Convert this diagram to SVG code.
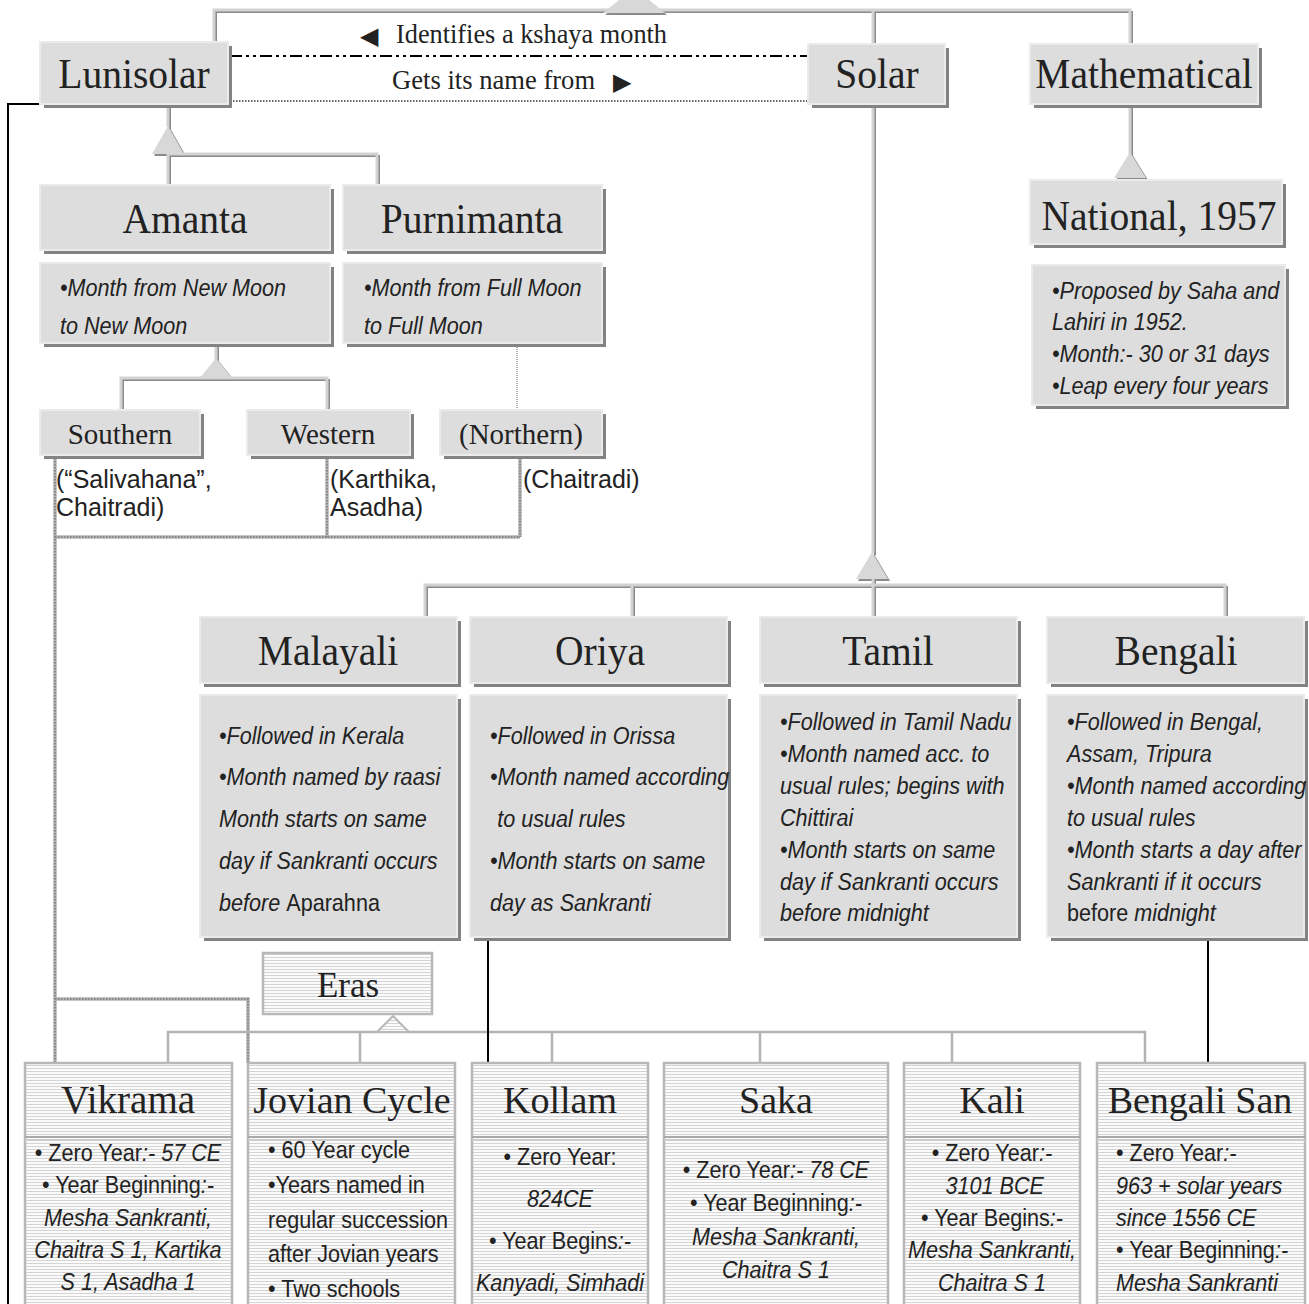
<svg xmlns="http://www.w3.org/2000/svg" width="1309" height="1304" viewBox="0 0 1309 1304">
<defs>
<style>
.sh{fill:#838383}
.bx{fill:#dddddd;stroke:#ebebeb;stroke-width:2}
.t{font-family:"Liberation Serif","Times New Roman",serif;fill:#222}
.s{font-family:"Liberation Sans",Arial,sans-serif;fill:#222;font-size:24px}
.i{font-style:italic}
.n{font-style:normal}
.cm{fill:none;stroke:#d2d2d2;stroke-width:3}
.cs{fill:none;stroke:#8a8a8a;stroke-width:2}
.tri{fill:#d8d8d8}
.trs{fill:#8a8a8a}
.era{fill:url(#stripe);stroke:#b8b8b8;stroke-width:2.5}
.div1{stroke:#aaaaaa;stroke-width:2}
.div2{stroke:#cccccc;stroke-width:2}
.el{fill:none;stroke:#b3b3b3;stroke-width:2.5}
.chainb{fill:none;stroke:#b4b4b4;stroke-width:3.5}
.chain{fill:none;stroke:#7a7a7a;stroke-width:1.5;stroke-dasharray:1.5 1.5}
.blk{fill:none;stroke:#000;stroke-width:2}
</style>
<pattern id="stripe" width="4" height="3" patternUnits="userSpaceOnUse"><rect width="4" height="3" fill="#fbfbfb"/><rect width="4" height="1" fill="#d4d4d4"/></pattern>
</defs>
<rect width="1309" height="1304" fill="#ffffff"/>

<g id="connectors">
  <g transform="translate(2,2)">
    <path class="cs" d="M214,42V10H1130V44M873,10V44"/>
    <path class="cs" d="M873,104V553"/>
    <path class="cs" d="M425,617V585H1225V617M632,585V617M873,579V617"/>
    <path class="cs" d="M1130,104V154"/>
    <path class="cs" d="M168,104V127M168,154V185M168,154H377V185"/>
    <path class="cs" d="M216,343V360M121,410V378H327V410"/>
    <polygon class="trs" points="603,13 665,13 634,-12"/>
    <polygon class="trs" points="872,552 856,579 888,579"/>
    <polygon class="trs" points="1130,152 1114,178 1146,178"/>
    <polygon class="trs" points="168,126 152,154 184,154"/>
    <polygon class="trs" points="216,358 200,378 232,378"/>
  </g>
  <path class="cm" d="M214,42V10H1130V44M873,10V44"/>
  <path class="cm" d="M873,104V553"/>
  <path class="cm" d="M425,617V585H1225V617M632,585V617M873,579V617"/>
  <path class="cm" d="M1130,104V154"/>
  <path class="cm" d="M168,104V127M168,154V185M168,154H377V185"/>
  <path class="cm" d="M216,343V360M121,410V378H327V410"/>
  <polygon class="tri" points="603,13 665,13 634,-12"/>
  <polygon class="tri" points="872,552 856,579 888,579"/>
  <polygon class="tri" points="1130,152 1114,178 1146,178"/>
  <polygon class="tri" points="168,126 152,154 184,154"/>
  <polygon class="tri" points="216,358 200,378 232,378"/>

  <path d="M517,343V410" fill="none" stroke="#b0b0b0" stroke-width="2" stroke-dasharray="1 1"/>
  <path class="chainb" d="M55,455V1063M327,455V537M520,455V537M55,537H520M55,999H248V1063"/>
  <path class="chain" d="M55,455V1063M327,455V537M520,455V537M55,537H520M55,999H248V1063"/>

  <path class="el" d="M168,1063V1032H1145V1063M360,1032V1063M552,1032V1063M760,1032V1063M952,1032V1063"/>
  <polygon points="377,1032 393,1016 409,1032" fill="url(#stripe)" stroke="#b8b8b8" stroke-width="2"/>

  <path class="blk" d="M40,104H8V1304"/>
  <path class="blk" d="M488,937V1063"/>
  <path class="blk" d="M1208,937V1063"/>

  <path d="M230,56H808" fill="none" stroke="#000" stroke-width="2" stroke-dasharray="12 4 3 4 3 4"/>
  <path d="M230,101H808" fill="none" stroke="#333" stroke-width="1.5" stroke-dasharray="1.5 1.5"/>
  <text class="t" x="360" y="44" font-size="24" font-family="DejaVu Sans, sans-serif" fill="#000">◀</text>
  <text class="t" font-size="28" transform="translate(396,43) scale(0.94,1)">Identifies a kshaya month</text>
  <text class="t" font-size="28" transform="translate(392,89) scale(0.95,1)">Gets its name from</text>
  <text class="t" x="613" y="90" font-size="24" font-family="DejaVu Sans, sans-serif" fill="#000">▶</text>
</g>

<g id="lunisolar"><rect class="sh" x="44" y="46" width="188" height="62"/><rect class="bx" x="40" y="42" width="188" height="62"/><text class="t" font-size="43" text-anchor="middle" transform="translate(134,88) scale(0.92,1)">Lunisolar</text></g>
<g id="solar"><rect class="sh" x="812" y="48" width="137" height="60"/><rect class="bx" x="808" y="44" width="137" height="60"/><text class="t" font-size="43" text-anchor="middle" transform="translate(877,88) scale(0.92,1)">Solar</text></g>
<g id="mathematical"><rect class="sh" x="1034" y="48" width="228" height="60"/><rect class="bx" x="1030" y="44" width="228" height="60"/><text class="t" font-size="43" text-anchor="middle" transform="translate(1144,88) scale(0.92,1)">Mathematical</text></g>
<g id="national"><rect class="sh" x="1034" y="184" width="252" height="64"/><rect class="bx" x="1030" y="180" width="252" height="64"/><text class="t" font-size="43" text-anchor="middle" transform="translate(1159,230) scale(0.92,1)">National, 1957</text></g>
<g id="national-details"><rect class="sh" x="1036" y="269" width="253" height="140"/><rect class="bx" x="1032" y="265" width="253" height="140"/>
<text class="s i" transform="translate(1052,0) scale(0.9,1)"><tspan x="0" y="299">•Proposed by Saha and</tspan><tspan x="0" y="330">Lahiri in 1952.</tspan><tspan x="0" y="362">•Month:- 30 or 31 days</tspan><tspan x="0" y="394">•Leap every four years</tspan></text></g>

<g id="amanta"><rect class="sh" x="44" y="189" width="290" height="65"/><rect class="bx" x="40" y="185" width="290" height="65"/><text class="t" font-size="43" text-anchor="middle" transform="translate(185,233) scale(0.92,1)">Amanta</text></g>
<g id="purnimanta"><rect class="sh" x="347" y="189" width="259" height="65"/><rect class="bx" x="343" y="185" width="259" height="65"/><text class="t" font-size="43" text-anchor="middle" transform="translate(472,233) scale(0.92,1)">Purnimanta</text></g>
<g id="amanta-details"><rect class="sh" x="44" y="267" width="290" height="80"/><rect class="bx" x="40" y="263" width="290" height="80"/>
<text class="s i" transform="translate(60,0) scale(0.9,1)"><tspan x="0" y="296">•Month from New Moon</tspan><tspan x="0" y="334">to New Moon</tspan></text></g>
<g id="purnimanta-details"><rect class="sh" x="347" y="267" width="259" height="80"/><rect class="bx" x="343" y="263" width="259" height="80"/>
<text class="s i" transform="translate(364,0) scale(0.9,1)"><tspan x="0" y="296">•Month from Full Moon</tspan><tspan x="0" y="334">to Full Moon</tspan></text></g>

<g id="southern"><rect class="sh" x="44" y="414" width="160" height="45"/><rect class="bx" x="40" y="410" width="160" height="45"/><text class="t" font-size="29" text-anchor="middle" x="120" y="444">Southern</text>
<text class="s" style="font-size:25px"><tspan x="56" y="488">(“Salivahana”,</tspan><tspan x="56" y="516">Chaitradi)</tspan></text></g>
<g id="western"><rect class="sh" x="251" y="414" width="163" height="45"/><rect class="bx" x="247" y="410" width="163" height="45"/><text class="t" font-size="29" text-anchor="middle" x="328" y="444">Western</text>
<text class="s" style="font-size:25px"><tspan x="330" y="488">(Karthika,</tspan><tspan x="330" y="516">Asadha)</tspan></text></g>
<g id="northern"><rect class="sh" x="444" y="414" width="162" height="45"/><rect class="bx" x="440" y="410" width="162" height="45"/><text class="t" font-size="29" text-anchor="middle" x="521" y="444">(Northern)</text>
<text class="s" style="font-size:25px" x="523" y="488">(Chaitradi)</text></g>

<g id="malayali"><rect class="sh" x="204" y="621" width="257" height="66"/><rect class="bx" x="200" y="617" width="257" height="66"/><text class="t" font-size="43" text-anchor="middle" transform="translate(328,665) scale(0.92,1)">Malayali</text></g>
<g id="oriya"><rect class="sh" x="474" y="621" width="257" height="66"/><rect class="bx" x="470" y="617" width="257" height="66"/><text class="t" font-size="43" text-anchor="middle" transform="translate(600,665) scale(0.92,1)">Oriya</text></g>
<g id="tamil"><rect class="sh" x="764" y="621" width="257" height="66"/><rect class="bx" x="760" y="617" width="257" height="66"/><text class="t" font-size="43" text-anchor="middle" transform="translate(888,665) scale(0.92,1)">Tamil</text></g>
<g id="bengali"><rect class="sh" x="1051" y="621" width="257" height="66"/><rect class="bx" x="1047" y="617" width="257" height="66"/><text class="t" font-size="43" text-anchor="middle" transform="translate(1176,665) scale(0.92,1)">Bengali</text></g>

<g id="malayali-details"><rect class="sh" x="204" y="699" width="257" height="242"/><rect class="bx" x="200" y="695" width="257" height="242"/>
<text class="s i" transform="translate(219,0) scale(0.9,1)"><tspan x="0" y="744">•Followed in Kerala</tspan><tspan x="0" y="785">•Month named by raasi</tspan><tspan x="0" y="827">Month starts on same</tspan><tspan x="0" y="869">day if Sankranti occurs</tspan><tspan x="0" y="911">before </tspan><tspan class="n">Aparahna</tspan></text></g>
<g id="oriya-details"><rect class="sh" x="474" y="699" width="257" height="242"/><rect class="bx" x="470" y="695" width="257" height="242"/>
<text class="s i" transform="translate(490,0) scale(0.9,1)"><tspan x="0" y="744">•Followed in Orissa</tspan><tspan x="0" y="785">•Month named according</tspan><tspan x="8" y="827">to usual rules</tspan><tspan x="0" y="869">•Month starts on same</tspan><tspan x="0" y="911">day as Sankranti</tspan></text></g>
<g id="tamil-details"><rect class="sh" x="764" y="699" width="257" height="242"/><rect class="bx" x="760" y="695" width="257" height="242"/>
<text class="s i" transform="translate(780,0) scale(0.9,1)"><tspan x="0" y="730">•Followed in Tamil Nadu</tspan><tspan x="0" y="762">•Month named acc. to</tspan><tspan x="0" y="794">usual rules; begins with</tspan><tspan x="0" y="826">Chittirai</tspan><tspan x="0" y="858">•Month starts on same</tspan><tspan x="0" y="890">day if Sankranti occurs</tspan><tspan x="0" y="921">before midnight</tspan></text></g>
<g id="bengali-details"><rect class="sh" x="1051" y="699" width="257" height="242"/><rect class="bx" x="1047" y="695" width="257" height="242"/>
<text class="s i" transform="translate(1067,0) scale(0.9,1)"><tspan x="0" y="730">•Followed in Bengal,</tspan><tspan x="0" y="762">Assam, Tripura</tspan><tspan x="0" y="794">•Month named according</tspan><tspan x="0" y="826">to usual rules</tspan><tspan x="0" y="858">•Month starts a day after</tspan><tspan x="0" y="890">Sankranti if it occurs</tspan><tspan x="0" y="921" class="n">before </tspan><tspan>midnight</tspan></text></g>

<g id="eras"><rect class="era" x="263" y="953" width="169" height="61"/><text class="t" font-size="35" text-anchor="middle" x="348" y="997">Eras</text></g>

<g id="vikrama"><rect class="era" x="25" y="1063" width="207" height="250"/><line class="div1" x1="25" y1="1137" x2="232" y2="1137"/><line class="div2" x1="25" y1="1140" x2="232" y2="1140"/>
<text class="t" font-size="39" text-anchor="middle" x="128" y="1113">Vikrama</text>
<text class="s" text-anchor="middle" transform="translate(128,0) scale(0.9,1)"><tspan x="0" y="1161">• Zero Year<tspan class="i">:- 57 CE</tspan></tspan><tspan x="0" y="1193">• Year Beginning<tspan class="i">:-</tspan></tspan><tspan x="0" y="1226" class="i">Mesha Sankranti,</tspan><tspan x="0" y="1258" class="i">Chaitra S 1, Kartika</tspan><tspan x="0" y="1290" class="i">S 1, Asadha 1</tspan></text></g>

<g id="jovian"><rect class="era" x="248" y="1063" width="207" height="250"/><line class="div1" x1="248" y1="1137" x2="455" y2="1137"/><line class="div2" x1="248" y1="1140" x2="455" y2="1140"/>
<text class="t" font-size="38" text-anchor="middle" x="352" y="1113">Jovian Cycle</text>
<text class="s" transform="translate(268,0) scale(0.9,1)"><tspan x="0" y="1158">• 60 Year cycle</tspan><tspan x="0" y="1193">•Years named in</tspan><tspan x="0" y="1228">regular succession</tspan><tspan x="0" y="1262">after Jovian years</tspan><tspan x="0" y="1297">• Two schools</tspan></text></g>

<g id="kollam"><rect class="era" x="472" y="1063" width="176" height="250"/><line class="div1" x1="472" y1="1137" x2="648" y2="1137"/><line class="div2" x1="472" y1="1140" x2="648" y2="1140"/>
<text class="t" font-size="38" text-anchor="middle" x="560" y="1113">Kollam</text>
<text class="s" text-anchor="middle" transform="translate(560,0) scale(0.9,1)"><tspan x="0" y="1165">• Zero Year:</tspan><tspan x="0" y="1207" class="i">824CE</tspan><tspan x="0" y="1249">• Year Begins<tspan class="i">:-</tspan></tspan><tspan x="0" y="1291" class="i">Kanyadi, Simhadi</tspan></text></g>

<g id="saka"><rect class="era" x="664" y="1063" width="224" height="250"/><line class="div1" x1="664" y1="1137" x2="888" y2="1137"/><line class="div2" x1="664" y1="1140" x2="888" y2="1140"/>
<text class="t" font-size="38" text-anchor="middle" x="776" y="1113">Saka</text>
<text class="s" text-anchor="middle" transform="translate(776,0) scale(0.9,1)"><tspan x="0" y="1178">• Zero Year<tspan class="i">:- 78 CE</tspan></tspan><tspan x="0" y="1211">• Year Beginning<tspan class="i">:-</tspan></tspan><tspan x="0" y="1245" class="i">Mesha Sankranti,</tspan><tspan x="0" y="1278" class="i">Chaitra S 1</tspan></text></g>

<g id="kali"><rect class="era" x="904" y="1063" width="176" height="250"/><line class="div1" x1="904" y1="1137" x2="1080" y2="1137"/><line class="div2" x1="904" y1="1140" x2="1080" y2="1140"/>
<text class="t" font-size="38" text-anchor="middle" x="992" y="1113">Kali</text>
<text class="s" text-anchor="middle" transform="translate(992,0) scale(0.9,1)"><tspan x="0" y="1161">• Zero Year<tspan class="i">:-</tspan></tspan><tspan x="3" y="1194" class="i">3101 BCE</tspan><tspan x="0" y="1226">• Year Begins<tspan class="i">:-</tspan></tspan><tspan x="0" y="1258" class="i">Mesha Sankranti,</tspan><tspan x="0" y="1291" class="i">Chaitra S 1</tspan></text></g>

<g id="bengali-san"><rect class="era" x="1097" y="1063" width="208" height="250"/><line class="div1" x1="1097" y1="1137" x2="1305" y2="1137"/><line class="div2" x1="1097" y1="1140" x2="1305" y2="1140"/>
<text class="t" font-size="38" text-anchor="middle" x="1200" y="1113">Bengali San</text>
<text class="s" transform="translate(1116,0) scale(0.9,1)"><tspan x="0" y="1161">• Zero Year<tspan class="i">:-</tspan></tspan><tspan x="0" y="1194" class="i">963 + solar years</tspan><tspan x="0" y="1226" class="i">since 1556 CE</tspan><tspan x="0" y="1258">• Year Beginning<tspan class="i">:-</tspan></tspan><tspan x="0" y="1291" class="i">Mesha Sankranti</tspan></text></g>
</svg>
